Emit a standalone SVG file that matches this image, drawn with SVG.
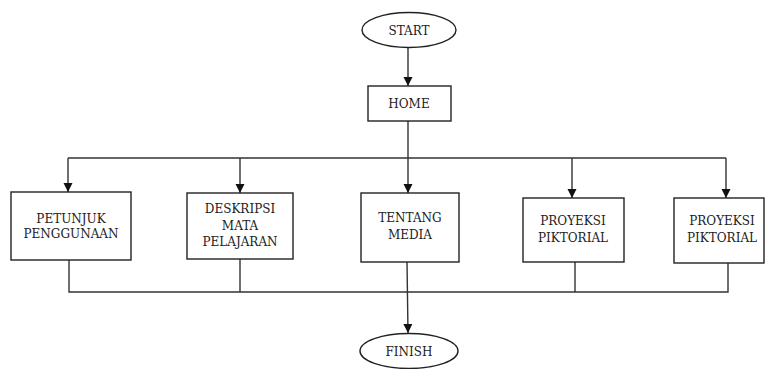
<svg xmlns="http://www.w3.org/2000/svg" width="766" height="369" viewBox="0 0 766 369">
<style>
.box{fill:#fff;stroke:#222;stroke-width:1.4}
.ln{fill:none;stroke:#333;stroke-width:1.4}
.t text{font-family:'DejaVu Serif',serif;font-size:12px;fill:#222;text-anchor:middle}
</style>
<defs>
<marker id="ah" markerWidth="10" markerHeight="10" refX="9" refY="5" orient="auto" markerUnits="userSpaceOnUse">
<path d="M0,0.5 L9,5 L0,9.5 Z" fill="#111"/>
</marker>
</defs>
<rect width="766" height="369" fill="#fff"/>
<g id="connectors">
<line class="ln" x1="408" y1="48" x2="408" y2="86" marker-end="url(#ah)"/>
<line class="ln" x1="408" y1="121" x2="408" y2="193" marker-end="url(#ah)"/>
<polyline class="ln" points="68,158 726,158"/>
<line class="ln" x1="68" y1="158" x2="68" y2="192" marker-end="url(#ah)"/>
<line class="ln" x1="240" y1="158" x2="240" y2="193" marker-end="url(#ah)"/>
<line class="ln" x1="572" y1="158" x2="572" y2="198" marker-end="url(#ah)"/>
<line class="ln" x1="726" y1="158" x2="726" y2="198" marker-end="url(#ah)"/>
<polyline class="ln" points="69,260 69,292 728,292 728,263"/>
<line class="ln" x1="240" y1="259" x2="240" y2="292"/>
<line class="ln" x1="575" y1="262" x2="575" y2="292"/>
<line class="ln" x1="407" y1="262" x2="408" y2="333" marker-end="url(#ah)"/>
</g>
<g class="t">
<g id="start">
<ellipse class="box" cx="409" cy="30" rx="47" ry="17.5"/>
<text x="409" y="35">START</text>
</g>
<g id="home">
<rect class="box" x="368" y="86" width="83" height="35"/>
<text x="409" y="108">HOME</text>
</g>
<g id="petunjuk">
<rect class="box" x="11" y="192" width="120" height="68"/>
<text x="71" y="223">PETUNJUK</text>
<text x="71" y="238">PENGGUNAAN</text>
</g>
<g id="deskripsi">
<rect class="box" x="187" y="193" width="106" height="66"/>
<text x="240" y="213">DESKRIPSI</text>
<text x="240" y="230">MATA</text>
<text x="240" y="246">PELAJARAN</text>
</g>
<g id="tentang">
<rect class="box" x="361" y="193" width="98" height="69"/>
<text x="410" y="222">TENTANG</text>
<text x="410" y="239">MEDIA</text>
</g>
<g id="proyeksi1">
<rect class="box" x="523" y="198" width="101" height="64"/>
<text x="573" y="225">PROYEKSI</text>
<text x="573" y="242">PIKTORIAL</text>
</g>
<g id="proyeksi2">
<rect class="box" x="674" y="198" width="90" height="65"/>
<text x="722" y="225">PROYEKSI</text>
<text x="722" y="242">PIKTORIAL</text>
</g>
<g id="finish">
<ellipse class="box" cx="409" cy="351" rx="49" ry="17.5"/>
<text x="409" y="356">FINISH</text>
</g>
</g>
</svg>
